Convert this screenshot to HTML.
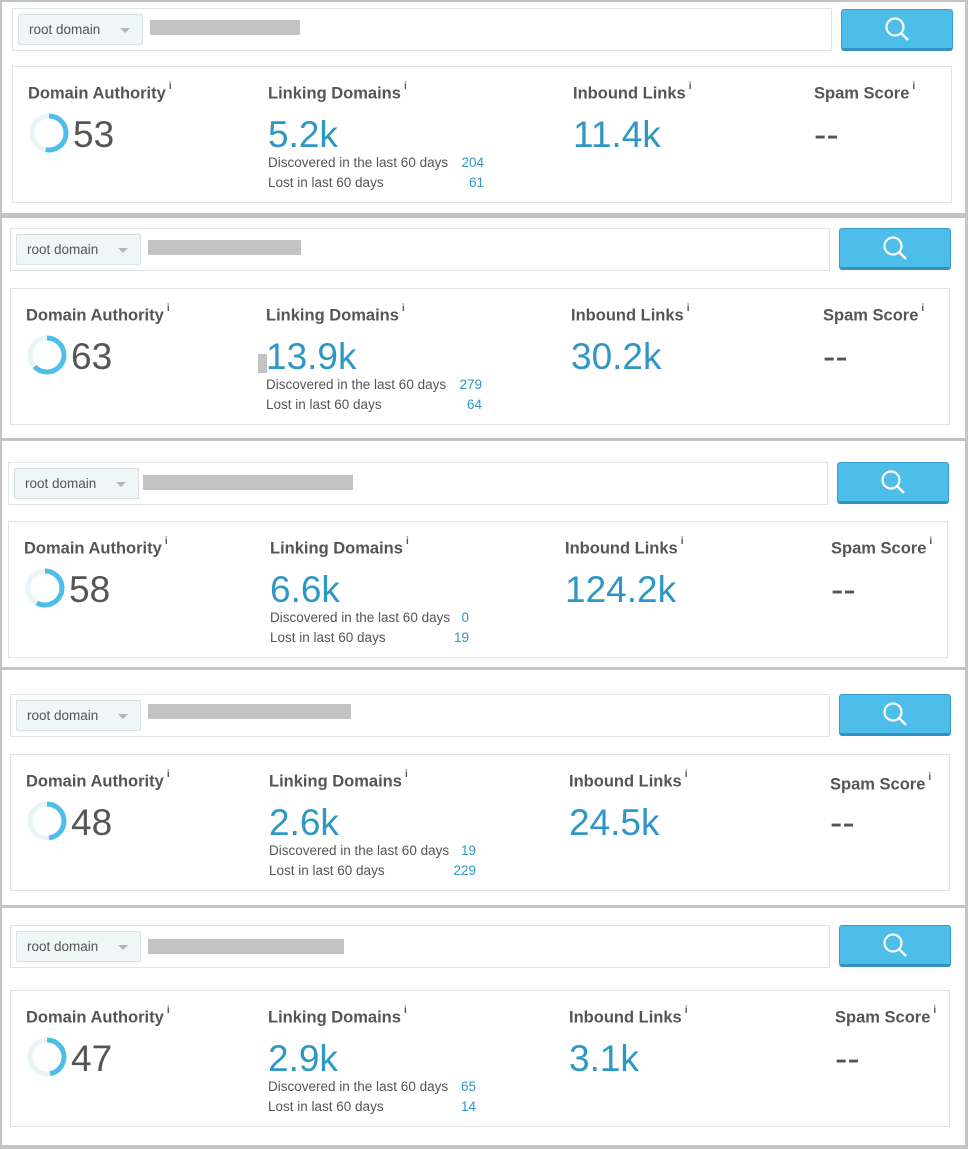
<!DOCTYPE html>
<html><head><meta charset="utf-8"><style>
*{margin:0;padding:0;box-sizing:border-box}
body{width:968px;height:1149px;background:#c4c4c4;position:relative;overflow:hidden;font-family:"Liberation Sans",sans-serif}
.p{position:absolute;left:2px;width:963px;background:#fff}
.a{position:absolute}
.sb{position:absolute;border:1px solid #dfe5e5;background:#fff;width:820px;height:43px}
.dd{position:absolute;width:125px;height:31px;border:1px solid #d8e2e2;background:#eff6f6;border-radius:2px;font-size:13.5px;color:#555;padding:7px 0 0 10px}
.dd:after{content:"";position:absolute;left:101px;top:13px;border-left:5px solid transparent;border-right:5px solid transparent;border-top:5px solid #b0b8b8}
.bar{position:absolute;height:15px;background:#c3c3c3}
.btn{position:absolute;width:112px;height:42px;background:#4dbde9;border:1px solid #3a9cc8;border-bottom:3px solid #3592bd;border-radius:3px}
.btn svg{position:absolute;left:42px;top:6px}
.st{position:absolute;width:940px;height:137px;border:1px solid #dce4e4;background:#fff}
.t{position:absolute;top:14px;font-size:16.5px;font-weight:bold;color:#555;line-height:18px;white-space:nowrap}
.t sup{font-size:10px;position:relative;top:-3px;margin-left:3px}
.v{position:absolute;top:48px;font-size:37px;line-height:40px;color:#2e97c4;white-space:nowrap}
.da{color:#555}
.sub{position:absolute;font-size:13.5px;color:#555;line-height:15px;white-space:nowrap}
.n{position:absolute;font-size:13.5px;color:#2e97c4;line-height:15px;text-align:right;width:60px}
.dn{position:absolute;left:16px;top:46px}
</style></head><body>

<!-- panel 1 -->
<div class="p" style="top:2px;height:211px"></div>
<div class="sb" style="left:12px;top:8px"></div>
<div class="dd" style="left:18px;top:14px">root domain</div>
<div class="bar" style="left:150px;top:20px;width:150px"></div>
<div class="btn" style="left:841px;top:9px"><svg width="28" height="28" viewBox="0 0 28 28"><circle cx="11" cy="11" r="8.5" fill="none" stroke="#fff" stroke-width="2.2"/><line x1="17" y1="17" x2="24" y2="24" stroke="#fff" stroke-width="2.4"/></svg></div>
<div class="st" style="left:12px;top:66px">
 <div class="t" style="left:15px">Domain Authority<sup>i</sup></div>
 <svg class="dn" width="40" height="40" viewBox="0 0 40 40"><circle cx="20" cy="20" r="17" fill="none" stroke="#e8f4f6" stroke-width="5"/><circle cx="20" cy="20" r="17" fill="none" stroke="#4dbde9" stroke-width="5" stroke-dasharray="56.6 200" transform="rotate(-90 20 20)"/></svg>
 <div class="v da" style="left:60px">53</div>
 <div class="t" style="left:255px">Linking Domains<sup>i</sup></div>
 <div class="v" style="left:255px">5.2k</div>
 <div class="sub" style="left:255px;top:88px">Discovered in the last 60 days</div>
 <div class="n" style="left:411px;top:88px">204</div>
 <div class="sub" style="left:255px;top:108px">Lost in last 60 days</div>
 <div class="n" style="left:411px;top:108px">61</div>
 <div class="t" style="left:560px">Inbound Links<sup>i</sup></div>
 <div class="v" style="left:560px">11.4k</div>
 <div class="t" style="left:801px">Spam Score<sup>i</sup></div>
 <div class="v da" style="left:801px">--</div>
</div>

<!-- panel 2 -->
<div class="p" style="top:218px;height:220px"></div>
<div class="sb" style="left:10px;top:228px"></div>
<div class="dd" style="left:16px;top:234px">root domain</div>
<div class="bar" style="left:148px;top:240px;width:153px"></div>
<div class="btn" style="left:839px;top:228px"><svg width="28" height="28" viewBox="0 0 28 28"><circle cx="11" cy="11" r="8.5" fill="none" stroke="#fff" stroke-width="2.2"/><line x1="17" y1="17" x2="24" y2="24" stroke="#fff" stroke-width="2.4"/></svg></div>
<div class="st" style="left:10px;top:288px">
 <div class="t" style="left:15px">Domain Authority<sup>i</sup></div>
 <svg class="dn" width="40" height="40" viewBox="0 0 40 40"><circle cx="20" cy="20" r="17" fill="none" stroke="#e8f4f6" stroke-width="5"/><circle cx="20" cy="20" r="17" fill="none" stroke="#4dbde9" stroke-width="5" stroke-dasharray="67.3 200" transform="rotate(-90 20 20)"/></svg>
 <div class="v da" style="left:60px">63</div>
 <div class="a" style="left:247px;top:65px;width:9px;height:19px;background:#c3c3c3"></div>
 <div class="t" style="left:255px">Linking Domains<sup>i</sup></div>
 <div class="v" style="left:255px">13.9k</div>
 <div class="sub" style="left:255px;top:88px">Discovered in the last 60 days</div>
 <div class="n" style="left:411px;top:88px">279</div>
 <div class="sub" style="left:255px;top:108px">Lost in last 60 days</div>
 <div class="n" style="left:411px;top:108px">64</div>
 <div class="t" style="left:560px">Inbound Links<sup>i</sup></div>
 <div class="v" style="left:560px">30.2k</div>
 <div class="t" style="left:812px">Spam Score<sup>i</sup></div>
 <div class="v da" style="left:812px">--</div>
</div>

<!-- panel 3 -->
<div class="p" style="top:441px;height:226px"></div>
<div class="sb" style="left:8px;top:462px"></div>
<div class="dd" style="left:14px;top:468px">root domain</div>
<div class="bar" style="left:143px;top:475px;width:210px"></div>
<div class="btn" style="left:837px;top:462px"><svg width="28" height="28" viewBox="0 0 28 28"><circle cx="11" cy="11" r="8.5" fill="none" stroke="#fff" stroke-width="2.2"/><line x1="17" y1="17" x2="24" y2="24" stroke="#fff" stroke-width="2.4"/></svg></div>
<div class="st" style="left:8px;top:521px">
 <div class="t" style="left:15px">Domain Authority<sup>i</sup></div>
 <svg class="dn" width="40" height="40" viewBox="0 0 40 40"><circle cx="20" cy="20" r="17" fill="none" stroke="#e8f4f6" stroke-width="5"/><circle cx="20" cy="20" r="17" fill="none" stroke="#4dbde9" stroke-width="5" stroke-dasharray="61.9 200" transform="rotate(-90 20 20)"/></svg>
 <div class="v da" style="left:60px">58</div>
 <div class="t" style="left:261px">Linking Domains<sup>i</sup></div>
 <div class="v" style="left:261px">6.6k</div>
 <div class="sub" style="left:261px;top:88px">Discovered in the last 60 days</div>
 <div class="n" style="left:400px;top:88px">0</div>
 <div class="sub" style="left:261px;top:108px">Lost in last 60 days</div>
 <div class="n" style="left:400px;top:108px">19</div>
 <div class="t" style="left:556px">Inbound Links<sup>i</sup></div>
 <div class="v" style="left:556px">124.2k</div>
 <div class="t" style="left:822px">Spam Score<sup>i</sup></div>
 <div class="v da" style="left:822px">--</div>
</div>

<!-- panel 4 -->
<div class="p" style="top:670px;height:235px"></div>
<div class="sb" style="left:10px;top:694px"></div>
<div class="dd" style="left:16px;top:700px">root domain</div>
<div class="bar" style="left:148px;top:704px;width:203px"></div>
<div class="btn" style="left:839px;top:694px"><svg width="28" height="28" viewBox="0 0 28 28"><circle cx="11" cy="11" r="8.5" fill="none" stroke="#fff" stroke-width="2.2"/><line x1="17" y1="17" x2="24" y2="24" stroke="#fff" stroke-width="2.4"/></svg></div>
<div class="st" style="left:10px;top:754px">
 <div class="t" style="left:15px">Domain Authority<sup>i</sup></div>
 <svg class="dn" width="40" height="40" viewBox="0 0 40 40"><circle cx="20" cy="20" r="17" fill="none" stroke="#e8f4f6" stroke-width="5"/><circle cx="20" cy="20" r="17" fill="none" stroke="#4dbde9" stroke-width="5" stroke-dasharray="51.3 200" transform="rotate(-90 20 20)"/></svg>
 <div class="v da" style="left:60px">48</div>
 <div class="t" style="left:258px">Linking Domains<sup>i</sup></div>
 <div class="v" style="left:258px">2.6k</div>
 <div class="sub" style="left:258px;top:88px">Discovered in the last 60 days</div>
 <div class="n" style="left:405px;top:88px">19</div>
 <div class="sub" style="left:258px;top:108px">Lost in last 60 days</div>
 <div class="n" style="left:405px;top:108px">229</div>
 <div class="t" style="left:558px">Inbound Links<sup>i</sup></div>
 <div class="v" style="left:558px">24.5k</div>
 <div class="t" style="left:819px;top:17px">Spam Score<sup>i</sup></div>
 <div class="v da" style="left:819px">--</div>
</div>

<!-- panel 5 -->
<div class="p" style="top:908px;height:237px"></div>
<div class="sb" style="left:10px;top:925px"></div>
<div class="dd" style="left:16px;top:931px">root domain</div>
<div class="bar" style="left:148px;top:939px;width:196px"></div>
<div class="btn" style="left:839px;top:925px"><svg width="28" height="28" viewBox="0 0 28 28"><circle cx="11" cy="11" r="8.5" fill="none" stroke="#fff" stroke-width="2.2"/><line x1="17" y1="17" x2="24" y2="24" stroke="#fff" stroke-width="2.4"/></svg></div>
<div class="st" style="left:10px;top:990px">
 <div class="t" style="left:15px">Domain Authority<sup>i</sup></div>
 <svg class="dn" width="40" height="40" viewBox="0 0 40 40"><circle cx="20" cy="20" r="17" fill="none" stroke="#e8f4f6" stroke-width="5"/><circle cx="20" cy="20" r="17" fill="none" stroke="#4dbde9" stroke-width="5" stroke-dasharray="50.2 200" transform="rotate(-90 20 20)"/></svg>
 <div class="v da" style="left:60px">47</div>
 <div class="t" style="left:257px">Linking Domains<sup>i</sup></div>
 <div class="v" style="left:257px">2.9k</div>
 <div class="sub" style="left:257px;top:88px">Discovered in the last 60 days</div>
 <div class="n" style="left:405px;top:88px">65</div>
 <div class="sub" style="left:257px;top:108px">Lost in last 60 days</div>
 <div class="n" style="left:405px;top:108px">14</div>
 <div class="t" style="left:558px">Inbound Links<sup>i</sup></div>
 <div class="v" style="left:558px">3.1k</div>
 <div class="t" style="left:824px">Spam Score<sup>i</sup></div>
 <div class="v da" style="left:824px">--</div>
</div>

</body></html>
